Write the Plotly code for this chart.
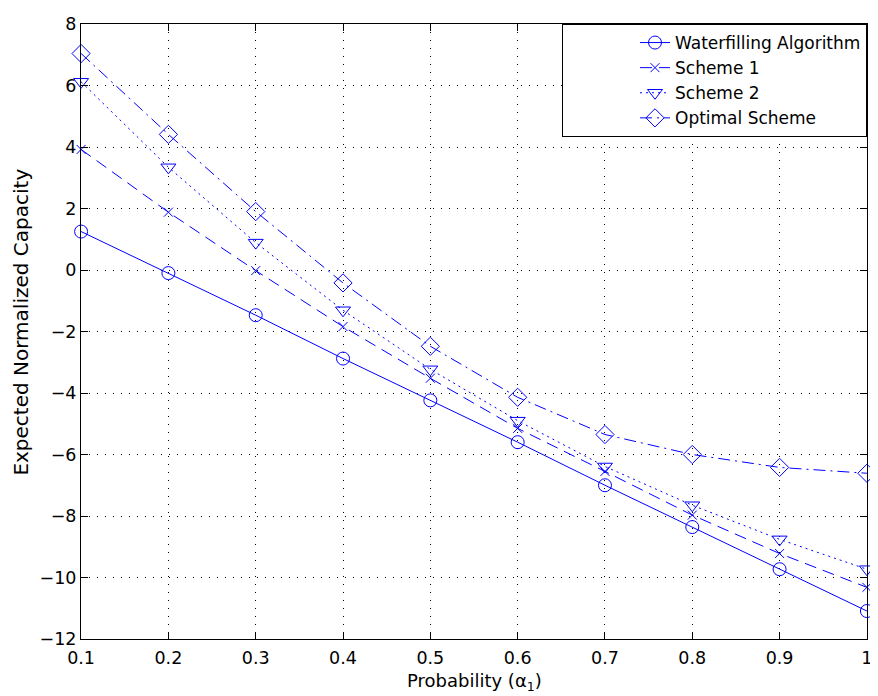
import plotly.graph_objects as go

alpha = [0.1, 0.2, 0.3, 0.4, 0.5, 0.6, 0.7, 0.8, 0.9, 1.0]
waterfilling = [1.25, -0.1, -1.47, -2.88, -4.24, -5.6, -7.0, -8.36, -9.73, -11.09]
scheme1 = [3.92, 1.88, -0.02, -1.84, -3.52, -5.15, -6.55, -7.97, -9.22, -10.32]
scheme2 = [6.12, 3.34, 0.89, -1.31, -3.23, -4.9, -6.39, -7.65, -8.76, -9.73]
optimal = [7.04, 4.41, 1.9, -0.42, -2.48, -4.14, -5.35, -6.0, -6.42, -6.61]

x_tickvals = [0.1, 0.2, 0.3, 0.4, 0.5, 0.6, 0.7, 0.8, 0.9, 1.0]
x_ticktext = ["0.1", "0.2", "0.3", "0.4", "0.5", "0.6", "0.7", "0.8", "0.9", "1"]
y_tickvals = [-12, -10, -8, -6, -4, -2, 0, 2, 4, 6, 8]

names = ["Waterfilling Algorithm", "Scheme 1", "Scheme 2", "Optimal Scheme"]
series = [waterfilling, scheme1, scheme2, optimal]
dashes = ["solid", "12px,7px", "2px,4px", "12px,5px,2px,5px"]
symbols = ["circle-open", "x-thin-open", "triangle-down-open", "diamond-open"]
sizes = [13, 9, 13, 14]

blue = "rgb(0,0,255)"
fig = go.Figure()
for n, s, d, sym, sz in zip(names, series, dashes, symbols, sizes):
    fig.add_trace(go.Scatter(
        x=alpha, y=s, name=n, mode="lines+markers", cliponaxis=False,
        line=dict(color=blue, width=1, dash=d),
        marker=dict(symbol=sym, size=sz, color=blue, line=dict(color=blue, width=1)),
    ))

font_family = "DejaVu Sans, sans-serif"
axis_common = dict(
    showline=True, linecolor="black", linewidth=1, mirror="allticks",
    ticks="inside", ticklen=7, tickcolor="black",
    showgrid=True, gridcolor="black", gridwidth=1, griddash="1px,7px",
    zeroline=False, tickfont=dict(size=17.5, color="black", family=font_family),
    ticklabeloverflow="allow",
)
# the page body has an 8px margin, so the figure is sized/margined to compensate
fig.update_layout(
    width=870, height=688,
    paper_bgcolor="white", plot_bgcolor="white",
    margin=dict(l=73, r=6, t=6, b=57),
    font=dict(family=font_family, color="black", size=17),
    showlegend=True,
    legend=dict(
        x=1.0, y=1.0, xanchor="right", yanchor="top",
        bordercolor="black", borderwidth=1, bgcolor="white",
        font=dict(size=17, color="black", family=font_family),
        tracegroupgap=0, indentation=72,
    ),
    annotations=[
        dict(text="Probability (α<sub>1</sub>)", xref="paper", yref="paper",
             x=0.5, y=-0.047, xanchor="center", yanchor="top", showarrow=False,
             font=dict(size=18, color="black", family=font_family)),
        dict(text="Expected Normalized Capacity", xref="paper", yref="paper",
             x=-0.0759, y=0.515, xanchor="center", yanchor="middle", textangle=-90,
             showarrow=False, font=dict(size=20, color="black", family=font_family)),
    ],
)
fig.update_xaxes(
    range=[0.0999, 1.0001], tickvals=x_tickvals, ticktext=x_ticktext,
    ticklabelstandoff=3,
    **axis_common,
)
fig.update_yaxes(
    range=[-12, 8], tickvals=y_tickvals,
    **axis_common,
)
fig.write_html("out.html")
